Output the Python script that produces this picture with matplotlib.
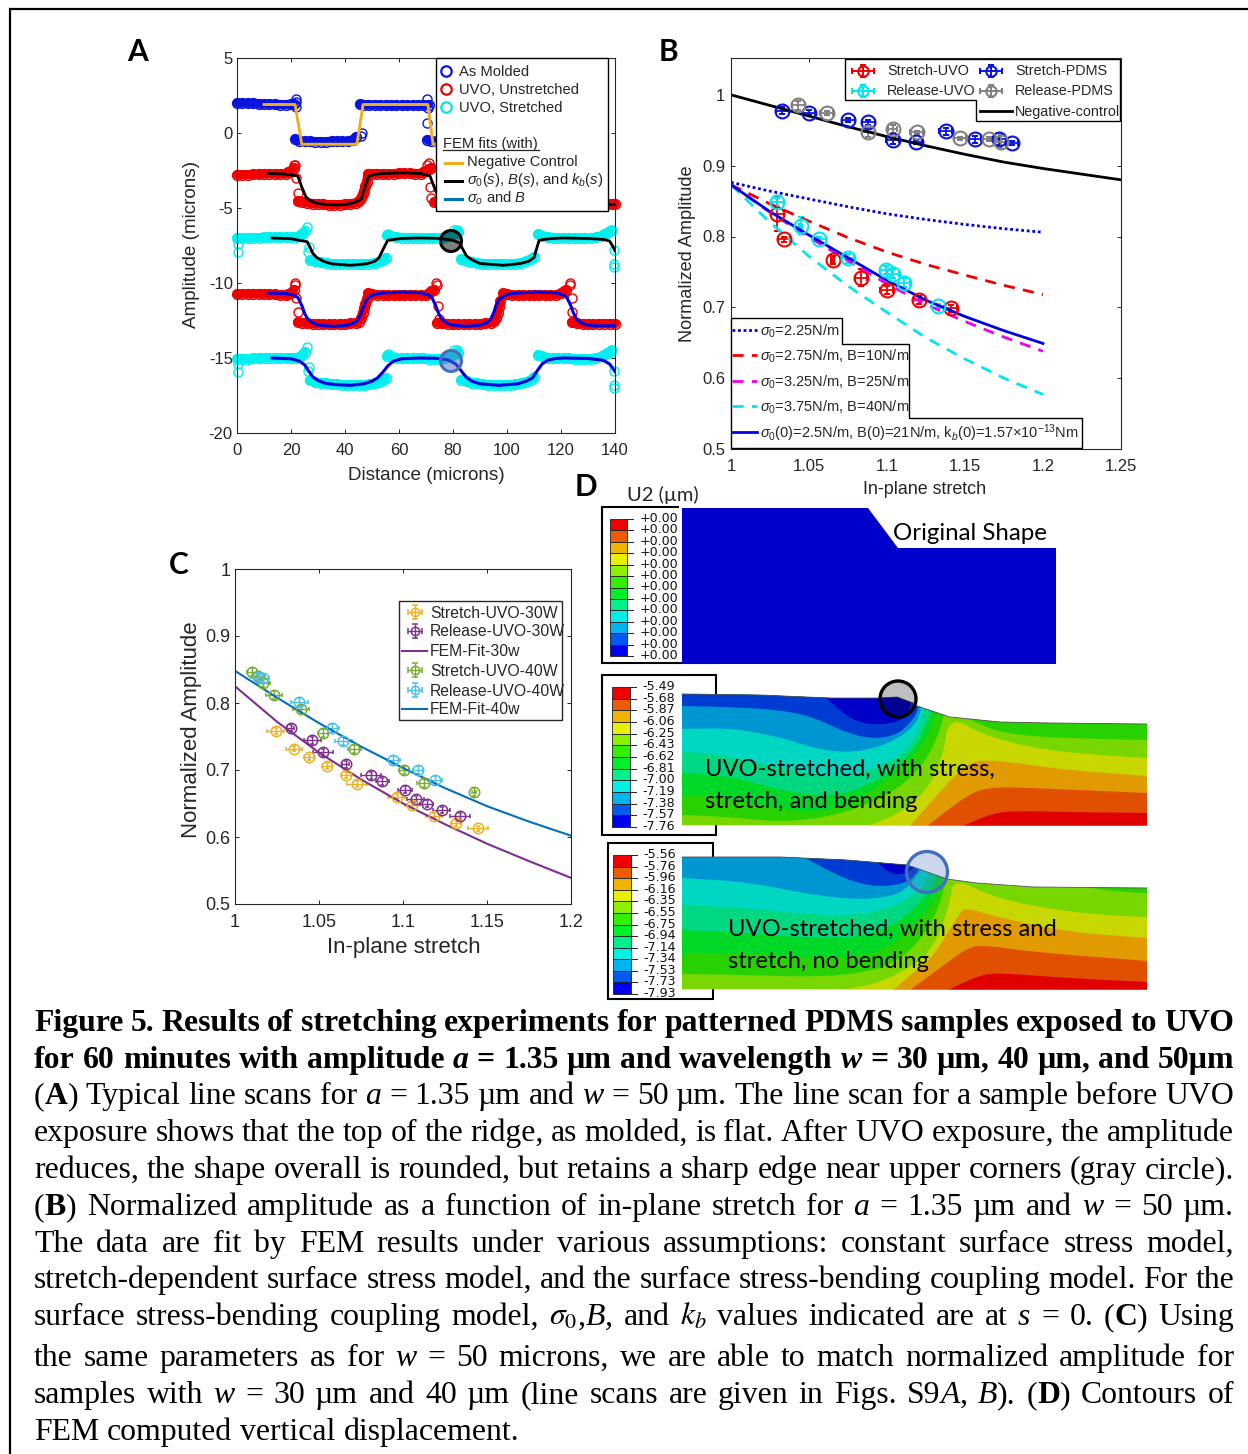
import re
import numpy as np
import matplotlib
matplotlib.use('Agg')
import matplotlib.pyplot as plt
from matplotlib.patches import Polygon, Rectangle, Circle

plt.rcParams['font.family'] = ['Liberation Sans', 'DejaVu Sans']
plt.rcParams['mathtext.fontset'] = 'custom'
plt.rcParams['mathtext.rm'] = 'Liberation Sans'
plt.rcParams['mathtext.it'] = 'Liberation Sans:italic'
plt.rcParams['mathtext.bf'] = 'Liberation Sans:bold'
plt.rcParams['axes.unicode_minus'] = False

W, H = 1248, 1454
DARK = '#262626'

# ---- panel A, line scans (None = no points on the wall) ----
molded_x = [0, 2, 4, 6, 8, 10, 12, 14, 16, 18, 20, 21, None, 21.5, 23, 25, 27, 29, 31, 33, 35, 37, 39, 41, 43, 44, None,
            45.5, 47, 49, 51, 53, 55, 57, 59, 61, 63, 65, 67, 69, 71, None, 70.5, 72, 74]
molded_y = [2.0, 2.0, 1.98, 1.98, 1.95, 1.95, 1.92, 1.92, 1.9, 1.9, 1.92, 1.95, None, -0.4, -0.5, -0.55, -0.55, -0.57, -0.57,
            -0.57, -0.55, -0.55, -0.55, -0.55, -0.45, -0.25, None, 1.92, 1.9, 1.87, 1.87, 1.85, 1.85, 1.85, 1.85, 1.85,
            1.85, 1.85, 1.85, 1.87, 1.9, None, -0.45, -0.5, -0.55]
molded_out_x = [21.9, 21.9, 21.7, 46.3, 45.8, 70.4, 70.4, 70.6]
molded_out_y = [2.3, 1.75, 2.1, 0.0, -0.2, 2.27, 0.67, 1.7]

red1_x = [0, 2, 4, 6, 8, 10, 12, 14, 16, 18, 19, 20, 21, None, 22.5, 24, 26, 28, 30, 32, 34, 36, 38, 40, 42, 44, 45, 46, 46.5,
          47, 47.5, 48, 48.5, 50, 52, 54, 56, 58, 60, 62, 64, 66, 68, 69, 70, 71, 72, None, 73, 75, 80, 85, 90, 95, 96.5, None,
          98, 103, 108, 113, 118, 120, None, 121, 125, 130, 135, 137, 139, 140]
red1_y = [-2.78, -2.78, -2.78, -2.75, -2.75, -2.72, -2.72, -2.72, -2.72, -2.7, -2.6, -2.5, -2.35, None, -4.55, -4.6, -4.65,
          -4.7, -4.72, -4.75, -4.77, -4.77, -4.77, -4.75, -4.72, -4.65, -4.55, -4.35, -4.1, -3.85, -3.55, -3.25, -2.7, -2.7,
          -2.72, -2.72, -2.72, -2.7, -2.68, -2.68, -2.68, -2.7, -2.7, -2.6, -2.5, -2.4, -2.3, None, -4.6, -4.7, -4.75, -4.77,
          -4.75, -4.6, -4.3, None, -2.7, -2.7, -2.7, -2.7, -2.6, -2.4, None, -4.6, -4.7, -4.75, -4.75, -4.75, -4.75, -4.75]
red1_out_x = [21, 21.5, 22, 22.5, 70.5, 71, 71.5, 71.8]
red1_out_y = [-2.1, -2.1, -3.0, -4.0, -2.1, -2.0, -3.6, -4.3]

cyan1_x = [0, 2, 4, 6, 8, 10, 12, 14, 16, 18, 20, 22, 23, 24, 25, None, 27, 29, 31, 33, 35, 37, 39, 41, 43, 45, 47, 49, 51, 53,
           54, 55, None, 55.5, 57, 59, 61, 63, 65, 67, 69, 71, 73, 75, 77, 79, 80, 81, 82, None, 83, 85, 87, 89, 91, 93, 95,
           97, 99, 101, 103, 105, 107, 109, 110, None, 111.5, 113, 115, 117, 119, 121, 123, 125, 127, 129, 131, 133, 135, 136,
           137, 138]
cyan1_y = [-7.0, -7.0, -7.0, -6.98, -6.98, -6.95, -6.95, -6.95, -6.95, -6.95, -6.95, -6.95, -6.85, -6.7, -6.55, None, -8.45,
           -8.55, -8.6, -8.65, -8.7, -8.7, -8.72, -8.72, -8.72, -8.72, -8.72, -8.7, -8.65, -8.55, -8.45, -8.3, None, -6.8, -6.85,
           -6.95, -6.98, -6.98, -6.98, -6.98, -6.98, -7.0, -7.0, -7.0, -6.95, -6.85, -6.75, -6.65, -6.6, None, -8.4, -8.5, -8.6,
           -8.65, -8.7, -8.72, -8.72, -8.72, -8.72, -8.72, -8.7, -8.65, -8.55, -8.4, -8.25, None, -6.75, -6.85, -6.95, -6.98,
           -6.98, -6.98, -6.98, -7.0, -7.0, -7.0, -7.0, -6.95, -6.85, -6.75, -6.65, -6.55]
cyan1_out_x = [0.4, 0.4, 25.9, 26.4, 26.5, 55.8, 80.5, 81.5, 139.5, 139.5, 139.5, 139.0, 138.5]
cyan1_out_y = [-7.95, -7.4, -6.25, -7.95, -7.6, -6.7, -6.5, -6.5, -7.8, -8.7, -8.9, -6.5, -6.5]

red2_x = [0, 2, 4, 6, 8, 10, 12, 14, 16, 18, 19, 20, 21, None, 22.5, 24, 26, 28, 30, 32, 34, 36, 38, 40, 42, 44, 45, 46, 46.5,
          47, 47.5, 48, 48.5, 50, 52, 54, 56, 58, 60, 62, 64, 66, 68, 70, 71, 72, 73, None, 74, 76, 78, 80, 82, 84, 86, 88, 90, 92,
          94, 95, 96, 96.5, 97, 97.5, None, 98.5, 100, 102, 104, 106, 108, 110, 112, 114, 116, 118, 120, 121, 122, None, 124,
          126, 128, 130, 132, 134, 136, 138, 140]
red2_y = [-10.72, -10.72, -10.72, -10.72, -10.72, -10.72, -10.75, -10.75, -10.78, -10.8, -10.75, -10.65, -10.45, None, -12.6,
          -12.65, -12.68, -12.72, -12.72, -12.75, -12.75, -12.75, -12.75, -12.75, -12.7, -12.65, -12.6, -12.3, -12.0, -11.7,
          -11.4, -11.1, -10.7, -10.75, -10.78, -10.8, -10.82, -10.82, -10.82, -10.82, -10.82, -10.82, -10.82, -10.82, -10.7,
          -10.55, -10.45, None, -12.65, -12.7, -12.72, -12.75, -12.75, -12.75, -12.75, -12.75, -12.75, -12.7, -12.65, -12.55,
          -12.3, -12.0, -11.6, -11.2, None, -10.7, -10.75, -10.8, -10.82, -10.82, -10.82, -10.82, -10.82, -10.82, -10.82, -10.8,
          -10.7, -10.55, -10.45, None, -12.62, -12.68, -12.72, -12.75, -12.75, -12.72, -12.72, -12.72, -12.72]
red2_out_x = [21.3, 21.5, 22, 22.6, 73.8, 74, 74.5, 74.8, 123.2, 123.5, 124, 124.2]
red2_out_y = [-10.0, -10.15, -11.0, -11.9, -10.0, -10.1, -11.5, -12.4, -10.0, -10.15, -11.0, -11.9]

cyan2_x = [0, 2, 4, 6, 8, 10, 12, 14, 16, 18, 20, 22, 23, 24, 25, None, 27, 29, 31, 33, 35, 37, 39, 41, 43, 45, 47, 49, 51, 53,
           54, 55, None, 55.5, 57, 59, 61, 63, 65, 67, 69, 71, 73, 75, 77, 79, 80, 81, 82, None, 83, 85, 87, 89, 91, 93, 95,
           97, 99, 101, 103, 105, 107, 109, 110, None, 111.5, 113, 115, 117, 119, 121, 123, 125, 127, 129, 131, 133, 135, 136,
           137, 138]
cyan2_y = [-15.05, -15.05, -15.05, -15.03, -15.03, -15.0, -15.0, -15.0, -15.0, -15.0, -15.0, -15.0, -14.95, -14.8, -14.6, None,
           -16.5, -16.6, -16.65, -16.7, -16.75, -16.75, -16.78, -16.78, -16.78, -16.78, -16.78, -16.75, -16.7, -16.6, -16.5,
           -16.35, None, -14.85, -14.9, -15.0, -15.03, -15.03, -15.03, -15.03, -15.03, -15.05, -15.05, -15.05, -15.0, -14.9,
           -14.8, -14.7, -14.65, None, -16.45, -16.55, -16.65, -16.7, -16.75, -16.78, -16.78, -16.78, -16.78, -16.78, -16.75,
           -16.7, -16.6, -16.45, -16.3, None, -14.8, -14.9, -15.0, -15.03, -15.03, -15.03, -15.03, -15.05, -15.05, -15.05, -15.05,
           -15.0, -14.9, -14.8, -14.7, -14.6]
cyan2_out_x = [0.4, 0.4, 25.9, 26.4, 26.5, 55.8, 80.5, 81.5, 139.5, 139.5, 139.5, 139.0, 138.5]
cyan2_out_y = [-15.95, -15.4, -14.25, -15.9, -15.6, -14.75, -14.5, -14.5, -15.9, -16.8, -17.0, -14.5, -14.5]

neg_fit_x = [10, 21.5, 24, 44.4, 46.7, 70.7, 72.6, 95, 97, 121, 123]
neg_fit_y = [1.9, 1.9, -0.75, -0.75, 1.9, 1.9, -0.75, -0.75, 1.9, 1.9, -0.75]

full_fit1_x = [11.6, 18, 22.5, 24, 25.5, 27, 29.6, 33, 37, 41, 44, 46, 47, 48.5, 49, 51, 54, 61.6, 68, 71.5, 73, 74.5, 76, 79,
               85, 92, 95, 97, 102, 110, 120, 124, 127, 133, 140]
full_fit1_y = [-2.7, -2.74, -2.87, -3.6, -4.25, -4.5, -4.68, -4.77, -4.8, -4.75, -4.6, -4.4, -3.8, -3.0, -2.87, -2.75, -2.7, -2.65,
               -2.7, -2.87, -3.6, -4.25, -4.5, -4.68, -4.8, -4.7, -4.4, -2.87, -2.68, -2.65, -2.87, -4.4, -4.65, -4.78, -4.75]
full_fit2_x = [13, 20, 26, 27, 28, 29.5, 32, 35, 42, 48, 51, 52.5, 54, 55.8, 57.9, 61, 67, 74.4, 80, 82.6, 83.5, 85, 87, 90, 98.6,
               105, 108, 110, 111.9, 113.4, 117, 121, 130, 136, 138, 139, 140]
full_fit2_y = [-7.0, -7.05, -7.25, -7.6, -8.0, -8.3, -8.55, -8.72, -8.82, -8.72, -8.55, -8.35, -7.8, -7.15, -7.1, -7.03, -7.0, -7.02,
               -7.15, -7.35, -7.7, -8.2, -8.45, -8.7, -8.82, -8.7, -8.55, -8.3, -7.15, -7.1, -7.03, -7.0, -7.03, -7.1, -7.2, -7.5, -7.85]
const_fit1_x = [11.6, 18, 21, 22.6, 24, 25, 26, 27.5, 29.6, 33, 37, 41, 43.5, 45, 46, 47, 48, 49.3, 51, 54, 61.6, 68, 71, 72.2, 73.6,
                74.6, 75.6, 77, 79, 83, 86.3, 90, 92.5, 94, 95, 96, 97, 98.6, 100.3, 103.6, 111, 118, 120.8, 122.2, 123.6, 124.6,
                125.6, 127, 129, 133, 140]
const_fit1_y = [-10.67, -10.7, -10.8, -10.98, -11.5, -12.0, -12.35, -12.6, -12.78, -12.86, -12.88, -12.8, -12.65, -12.4, -12.0, -11.5,
                -11.1, -10.88, -10.75, -10.67, -10.6, -10.65, -10.8, -10.98, -11.5, -12.0, -12.35, -12.6, -12.78, -12.86, -12.88,
                -12.8, -12.65, -12.4, -12.0, -11.5, -11.1, -10.9, -10.75, -10.67, -10.6, -10.65, -10.8, -10.98, -11.5, -12.0,
                -12.35, -12.6, -12.78, -12.86, -12.85]
const_fit2_x = [13, 20, 23, 25, 26.5, 28, 30, 33, 37, 42, 47, 50, 52, 54, 56, 58, 61, 67.8, 74, 78, 81, 83, 85, 87, 90, 97, 104, 107,
                109.4, 111, 113, 115, 118, 121, 130, 135.6, 138, 140]
const_fit2_y = [-15.0, -15.05, -15.2, -15.45, -15.85, -16.25, -16.5, -16.7, -16.78, -16.82, -16.72, -16.55, -16.33, -15.95, -15.5,
                -15.2, -15.05, -15.0, -15.02, -15.12, -15.4, -15.85, -16.3, -16.55, -16.72, -16.82, -16.72, -16.55, -16.33, -15.9,
                -15.4, -15.15, -15.03, -15.0, -15.03, -15.15, -15.4, -15.9]

# ---- panel B ----
stretch_uvo_x = [1.0297, 1.034, 1.0652, 1.0833, 1.0998, 1.1207, 1.1408]
stretch_uvo_y = [0.8324, 0.7958, 0.7666, 0.742, 0.7244, 0.7103, 0.6986]
stretch_uvo_xe = [0.004, 0.004, 0.001, 0.004, 0.004, 0.004, 0.004]
stretch_uvo_ye = [0.025, 0.004, 0.006, 0.012, 0.006, 0.005, 0.005]
release_uvo_x = [1.0297, 1.0447, 1.0566, 1.0748, 1.0994, 1.104, 1.111, 1.133]
release_uvo_y = [0.849, 0.8155, 0.7958, 0.769, 0.7526, 0.7475, 0.7348, 0.7018]
release_uvo_xe = [0.004, 0.001, 0.004, 0.004, 0.004, 0.004, 0.004, 0.001]
release_uvo_ye = [0.006, 0.012, 0.004, 0.006, 0.006, 0.006, 0.006, 0.003]
stretch_pdms_x = [1.0329, 1.05, 1.0752, 1.088, 1.1036, 1.1186, 1.1376, 1.1564, 1.172, 1.18]
stretch_pdms_y = [0.9775, 0.975, 0.9643, 0.961, 0.9357, 0.9334, 0.9483, 0.937, 0.9376, 0.9324]
stretch_pdms_xe = [0.004, 0.004, 0.004, 0.004, 0.004, 0.004, 0.004, 0.004, 0.004, 0.004]
stretch_pdms_ye = [0.005, 0.004, 0.003, 0.003, 0.005, 0.003, 0.005, 0.005, 0.008, 0.003]
release_pdms_x = [1.0432, 1.0613, 1.088, 1.1036, 1.119, 1.1468, 1.1654, 1.1729]
release_pdms_y = [0.985, 0.974, 0.947, 0.952, 0.947, 0.9385, 0.938, 0.934]
release_pdms_xe = [0.004, 0.004, 0.004, 0.003, 0.004, 0.004, 0.004, 0.004]
release_pdms_ye = [0.006, 0.003, 0.006, 0.006, 0.002, 0.002, 0.003, 0.011]

control_x = [1.0, 1.025, 1.05, 1.075, 1.1, 1.125, 1.15, 1.175, 1.2, 1.225, 1.25]
control_y = [1.0, 0.985, 0.97, 0.955, 0.941, 0.928, 0.916, 0.905, 0.896, 0.888, 0.88]
fit_x = [1.0, 1.025, 1.05, 1.075, 1.1, 1.125, 1.15, 1.175, 1.2]
fit_225 = [0.8765, 0.864, 0.853, 0.842, 0.832, 0.824, 0.817, 0.811, 0.806]
fit_275 = [0.873, 0.846, 0.8216, 0.7985, 0.778, 0.7605, 0.7455, 0.731, 0.718]
fit_325 = [0.873, 0.834, 0.799, 0.766, 0.733, 0.704, 0.68, 0.658, 0.638]
fit_375 = [0.873, 0.82, 0.772, 0.73, 0.693, 0.657, 0.627, 0.6, 0.577]
fit_full = [0.873, 0.835, 0.802, 0.77, 0.738, 0.71, 0.687, 0.667, 0.649]

# ---- panel C ----
s30_x = [1.0242, 1.0351, 1.044, 1.0549, 1.0659, 1.0724, 1.0962, 1.1052, 1.1185, 1.1315, 1.1448]
s30_y = [0.758, 0.732, 0.719, 0.706, 0.6925, 0.679, 0.66, 0.648, 0.632, 0.621, 0.613]
s30_xe = [0.005, 0.005, 0.003, 0.003, 0.003, 0.006, 0.005, 0.004, 0.005, 0.003, 0.006]
r30_x = [1.0331, 1.046, 1.0526, 1.0659, 1.0811, 1.0877, 1.1012, 1.1076, 1.1141, 1.123, 1.1339]
r30_y = [0.7627, 0.7443, 0.7264, 0.7085, 0.6921, 0.6831, 0.6706, 0.6567, 0.6497, 0.6403, 0.6309]
r30_xe = [0.002, 0.005, 0.006, 0.002, 0.006, 0.004, 0.004, 0.005, 0.004, 0.005, 0.006]
s40_x = [1.0099, 1.0139, 1.0168, 1.0232, 1.0393, 1.0526, 1.071, 1.1008, 1.1125, 1.1423]
s40_y = [0.8463, 0.8403, 0.8303, 0.8119, 0.791, 0.7548, 0.7318, 0.6996, 0.6801, 0.6676]
s40_xe = [0.003, 0.004, 0.004, 0.005, 0.005, 0.003, 0.004, 0.003, 0.004, 0.001]
r40_x = [1.0139, 1.0165, 1.0383, 1.0579, 1.0645, 1.0942, 1.1091, 1.119]
r40_y = [0.8393, 0.8373, 0.802, 0.7622, 0.7428, 0.7149, 0.7004, 0.6851]
r40_xe = [0.004, 0.004, 0.005, 0.004, 0.005, 0.004, 0.003, 0.004]
fem_x = [1.0, 1.025, 1.05, 1.075, 1.1, 1.125, 1.15, 1.175, 1.2]
fem_30 = [0.825, 0.772, 0.726, 0.686, 0.65, 0.619, 0.59, 0.564, 0.539]
fem_40 = [0.848, 0.808, 0.77, 0.735, 0.703, 0.673, 0.646, 0.623, 0.602]

# ---- panel D, colour bars and contour boundaries (figure pixels) ----
bar_colors = ['#f00000', '#f05a00', '#f0b400', '#e6f000', '#8cf000', '#32f000', '#00f028',
              '#00f08c', '#00f0e6', '#00b4f0', '#005af0', '#0000f0']
labels_1 = ['+0.00'] * 13
labels_2 = ['-5.49', '-5.68', '-5.87', '-6.06', '-6.25', '-6.43', '-6.62', '-6.81', '-7.00', '-7.19', '-7.38', '-7.57', '-7.76']
labels_3 = ['-5.56', '-5.76', '-5.96', '-6.16', '-6.35', '-6.55', '-6.75', '-6.94', '-7.14', '-7.34', '-7.53', '-7.73', '-7.93']

c_yg, c_g, c_bg, c_tg, c_teal = '#78d700', '#28d200', '#00d828', '#00d782', '#00d7c3'
c_b3, c_b2, c_dk, c_y, c_o, c_or, c_r = '#0096d2', '#003cd2', '#0000c8', '#c8d700', '#e19b00', '#e15000', '#e10000'

shape0 = [(682, 508), (868, 508), (898, 548), (1056, 548), (1056, 664), (682, 664)]

surf2 = [(682, 694), (760, 695), (830, 698), (880, 698), (897, 697), (913, 703), (917, 706), (950, 717), (1000, 722), (1050, 723), (1147, 724)]
bottom2 = 825.5
lobe2 = [(962, 716), (997, 732), (1040, 737), (1100, 739), (1147, 740)]
right2 = [
    (c_y, [(868, 826), (900, 813), (927, 790), (943, 757), (949, 716), (983, 735), (1033, 748), (1083, 754), (1147, 758)]),
    (c_o, [(910, 826), (950, 780), (970, 762), (990, 760), (1017, 763), (1067, 770), (1147, 776)]),
    (c_or, [(927, 826), (970, 793), (993, 787), (1033, 788), (1147, 793)]),
    (c_r, [(963, 826), (993, 813), (1017, 811), (1067, 812), (1147, 813)]),
]
left2 = [
    (c_g, [(682, 815), (730, 817), (780, 822), (830, 817), (880, 800), (915, 775), (935, 745), (945, 712)]),
    (c_bg, [(682, 795), (730, 798), (780, 810), (830, 812), (875, 790), (910, 760), (928, 735), (938, 708)]),
    (c_tg, [(682, 773), (730, 776), (780, 790), (830, 797), (870, 785), (905, 760), (922, 735), (932, 708)]),
    (c_teal, [(682, 752), (713, 753), (780, 768), (830, 777), (863, 773), (897, 758), (915, 740), (925, 706)]),
    (c_b3, [(682, 729), (730, 728), (780, 737), (813, 748), (847, 753), (880, 747), (907, 733), (918, 720), (922, 704)]),
    (c_b2, [(682, 706), (730, 707), (780, 710), (813, 717), (847, 733), (873, 739), (897, 735), (910, 723), (917, 713), (919, 702)]),
    (c_dk, [(818, 690), (837, 708), (853, 720), (873, 725), (893, 723), (907, 717), (910, 708), (912, 695)]),
]

surf3 = [(682, 857), (780, 857), (847, 860), (907, 865), (913, 867), (947, 879), (977, 883), (1033, 887), (1147, 888)]
bottom3 = 989.5
lobe3 = [(1073, 884), (1107, 891), (1147, 893)]
right3 = [
    (c_y, [(840, 990), (880, 983), (920, 962), (937, 940), (950, 903), (953, 878), (993, 897), (1043, 908), (1100, 915), (1147, 917)]),
    (c_o, [(893, 990), (920, 967), (933, 957), (960, 912), (967, 908), (997, 917), (1067, 932), (1147, 938)]),
    (c_or, [(910, 990), (933, 973), (967, 948), (983, 945), (1033, 952), (1147, 961)]),
    (c_r, [(948, 990), (980, 975), (1000, 973), (1067, 978), (1147, 982)]),
]
left3 = [
    (c_g, [(682, 974), (747, 975), (813, 977), (863, 973), (897, 962), (920, 940), (937, 913), (948, 875)]),
    (c_bg, [(682, 953), (747, 953), (813, 958), (863, 957), (897, 943), (927, 910), (940, 890), (943, 872)]),
    (c_tg, [(682, 930), (747, 933), (813, 938), (863, 937), (897, 923), (920, 903), (933, 887), (937, 870)]),
    (c_teal, [(682, 905), (747, 908), (813, 915), (863, 915), (897, 905), (915, 893), (923, 887), (932, 866)]),
    (c_b3, [(682, 878), (747, 882), (813, 895), (863, 900), (897, 895), (910, 885), (925, 864)]),
    (c_b2, [(795, 852), (823, 868), (853, 882), (880, 887), (907, 883), (918, 872), (922, 860)]),
    (c_dk, [(872, 855), (887, 872), (900, 875), (913, 870), (918, 860)]),
]

# ---- caption, one list of (text, style) runs per line ----
caption = [
    [('Figure 5. Results of stretching experiments for patterned PDMS samples exposed to UVO', 'b')],
    [('for 60 minutes with amplitude ', 'b'), ('a', 'bi'), (' = 1.35 µm and wavelength ', 'b'), ('w', 'bi'),
     (' = 30 µm, 40 µm, and 50µm', 'b')],
    [('(', 'n'), ('A', 'b'), (') Typical line scans for ', 'n'), ('a', 'i'), (' = 1.35 µm and ', 'n'), ('w', 'i'),
     (' = 50 µm. The line scan for a sample before UVO', 'n')],
    [('exposure shows that the top of the ridge, as molded, is flat.  After UVO exposure, the amplitude', 'n')],
    [('reduces, the shape overall is rounded, but retains a sharp edge near upper corners (gray circle).', 'n')],
    [('(', 'n'), ('B', 'b'), (') Normalized amplitude as a function of in-plane stretch for ', 'n'), ('a', 'i'),
     (' = 1.35 µm and ', 'n'), ('w', 'i'), (' = 50 µm.', 'n')],
    [('The data are fit by FEM results under various assumptions: constant surface stress model,', 'n')],
    [('stretch-dependent surface stress model, and the surface stress-bending coupling model. For the', 'n')],
    [('surface stress-bending coupling model, ', 'n'), (r'$\sigma_0$', 'm'), (',', 'n'), ('B', 'i'), (',', 'i'),
     (' and ', 'n'), (r'$k_b$', 'm'), (' values indicated are at ', 'n'), ('s', 'i'), (' = 0.   (', 'n'), ('C', 'b'),
     (') Using', 'n')],
    [('the same parameters as for ', 'n'), ('w', 'i'), (' = 50 microns, we are able to match normalized amplitude for', 'n')],
    [('samples with ', 'n'), ('w', 'i'), (' = 30 µm and 40 µm (line scans are given in Figs. S9', 'n'), ('A', 'i'), (', ', 'n'),
     ('B', 'i'), (').  (', 'n'), ('D', 'b'), (') Contours of', 'n')],
    [('FEM computed vertical displacement.', 'n')],
]
caption_base = [1031, 1068, 1104, 1141, 1178, 1215, 1252, 1288, 1325, 1366, 1403, 1440]


fig = plt.figure(figsize=(W / 100, H / 100), dpi=100, facecolor='white')


def panel(x0, x1, y0, y1):
    return fig.add_axes([x0 / W, 1 - y1 / H, (x1 - x0) / W, (y1 - y0) / H])


def style_axes(ax, size, xpad, ypad):
    ax.tick_params(direction='in', top=True, right=True, length=3, width=0.7, color=DARK,
                   labelcolor=DARK, labelsize=size)
    ax.tick_params(axis='x', pad=xpad)
    ax.tick_params(axis='y', pad=ypad)
    for s in ax.spines.values():
        s.set_linewidth(0.8)
        s.set_color(DARK)


# full figure overlay in pixels, holds legends, labels, panel D and the caption
pix = fig.add_axes([0, 0, 1, 1], zorder=10)
pix.set_xlim(0, W)
pix.set_ylim(H, 0)
pix.axis('off')
pix.patch.set_alpha(0)


def txt(x, y, s, size, ha='left', va='center', color='black', **kw):
    return pix.text(x, y, s, fontsize=size, ha=ha, va=va, color=color, **kw)


# outer frame of the figure
pix.plot([10, 10, W], [H, 9, 9], color='black', lw=1.6, solid_joinstyle='miter')

# ---------- A ----------
axa = panel(237, 615, 58, 433)
axa.set_xlim(0, 140)
axa.set_ylim(-20, 5)
axa.set_xticks([0, 20, 40, 60, 80, 100, 120, 140])
axa.set_yticks([-20, -15, -10, -5, 0, 5])
axa.set_yticklabels(['-20', '-15', '-10', '-5', '0', '5'])
style_axes(axa, 12, 7.5, 3)
scans = [(molded_x, molded_y, molded_out_x, molded_out_y, '#0a14dc'),
         (red1_x, red1_y, red1_out_x, red1_out_y, '#f00000'),
         (cyan1_x, cyan1_y, cyan1_out_x, cyan1_out_y, '#00f0f0'),
         (red2_x, red2_y, red2_out_x, red2_out_y, '#f00000'),
         (cyan2_x, cyan2_y, cyan2_out_x, cyan2_out_y, '#00f0f0')]
for sx, sy, ox, oy, col in scans:
    xs = np.array(sx, dtype=float)
    ys = np.array(sy, dtype=float)
    axa.plot(xs, ys, color=col, lw=6.5, solid_capstyle='round', clip_on=False)
    axa.plot(xs, ys, 'o', mfc='none', mec=col, ms=7, mew=1.1, clip_on=False)
    axa.plot(ox, oy, 'o', mfc='none', mec=col, ms=6.5, mew=1.0, clip_on=False)
axa.plot(neg_fit_x, neg_fit_y, color='#edb120', lw=2.1)
axa.plot(full_fit1_x, full_fit1_y, color='black', lw=2.0)
axa.plot(full_fit2_x, full_fit2_y, color='black', lw=2.0)
axa.plot(const_fit1_x, const_fit1_y, color='#0000e0', lw=2.2)
axa.plot(const_fit2_x, const_fit2_y, color='#0000e0', lw=2.2)

pix.add_patch(Circle((451, 241), 10.5, fc=(0, 0, 0, 0.5), ec='black', lw=2.2))
pix.add_patch(Circle((451, 361), 10.5, fc=(70 / 255, 110 / 255, 190 / 255, 0.5), ec='#466ebe', lw=2.2))

pix.add_patch(Rectangle((436, 58), 172, 153, fc='white', ec='black', lw=1.0, zorder=3))
for yy, col, name in [(71, '#0a14dc', 'As Molded'), (89, '#f00000', 'UVO, Unstretched'), (107, '#00e6e6', 'UVO, Stretched')]:
    pix.plot([446], [yy], 'o', mfc='none', mec=col, ms=7.5, mew=1.6, zorder=4)
    txt(459, yy + 1, name, 10.6, color=DARK, zorder=4)
txt(443, 144, 'FEM fits (with)', 10.6, color=DARK, zorder=4)
pix.plot([443, 539], [150, 150], color=DARK, lw=0.9, zorder=4)
for yy, col, name in [(163, '#edb120', 'Negative Control'),
                      (181, 'black', r'$\sigma_0(s)$, $B(s)$, and $k_b(s)$'),
                      (199, '#0072bd', r'$\sigma_o$ and $B$')]:
    pix.plot([445, 462], [yy, yy], color=col, lw=2.2, zorder=4)
    txt(467, yy - 1, name, 10.6, color=DARK, zorder=4, math_fontfamily='custom')

txt(426, 476, 'Distance (microns)', 13.6, ha='center', color=DARK)
txt(191, 245, 'Amplitude (microns)', 13.6, ha='center', rotation=90, color=DARK)
txt(138, 52, 'A', 21.5, ha='center', family='Lato', weight='bold')

# ---------- B ----------
axb = panel(731, 1121, 58, 449)
axb.set_xlim(1, 1.25)
axb.set_ylim(0.5, 1.052)
axb.set_xticks([1, 1.05, 1.1, 1.15, 1.2, 1.25])
axb.set_xticklabels(['1', '1.05', '1.1', '1.15', '1.2', '1.25'])
axb.set_yticks([0.5, 0.6, 0.7, 0.8, 0.9, 1])
axb.set_yticklabels(['0.5', '0.6', '0.7', '0.8', '0.9', '1'])
style_axes(axb, 12, 7.5, 4)
err_style = dict(fmt='o', mfc='none', ms=10, mew=1.5, elinewidth=1.3, capsize=2, capthick=1.2)
axb.errorbar(stretch_pdms_x, stretch_pdms_y, stretch_pdms_ye, stretch_pdms_xe, color='#0a14dc', **err_style)
axb.errorbar(release_pdms_x, release_pdms_y, release_pdms_ye, release_pdms_xe, color='#808080', **err_style)
axb.errorbar(stretch_uvo_x, stretch_uvo_y, stretch_uvo_ye, stretch_uvo_xe, color='#f00000', **err_style)
axb.errorbar(release_uvo_x, release_uvo_y, release_uvo_ye, release_uvo_xe, color='#00e6f0', **err_style)
axb.plot(control_x, control_y, color='black', lw=2)
axb.plot(fit_x, fit_225, color='#0000e6', lw=2, ls=(0, (1, 1)))
axb.plot(fit_x, fit_275, color='#f00000', lw=2, ls=(0, (4, 3)))
axb.plot(fit_x, fit_325, color='#f000f0', lw=2, ls=(0, (4, 3)))
axb.plot(fit_x, fit_375, color='#00e6f0', lw=2, ls=(0, (4, 3)))
axb.plot(fit_x, fit_full, color='#0000e6', lw=2)

pix.add_patch(Polygon([(845, 59), (1120, 59), (1120, 121), (976, 121), (976, 100), (845, 100)],
                      closed=True, fc='white', ec='black', lw=1.0, zorder=3))
leg_err = dict(fmt='o', mfc='none', ms=7.5, mew=1.5, elinewidth=1.4, capsize=2.5, capthick=1.3, zorder=4)
for xx, yy, col in [(863, 71, '#f00000'), (863, 91, '#00e6f0'), (991, 71, '#0a14dc'), (991, 91, '#808080')]:
    pix.errorbar([xx], [yy], 6, 11, color=col, **leg_err)
for xx, yy, name in [(887, 71, 'Stretch-UVO'), (887, 91, 'Release-UVO'), (1015, 71, 'Stretch-PDMS'),
                     (1015, 91, 'Release-PDMS'), (1015, 112, 'Negative-control')]:
    txt(xx, yy, name, 10.35, color=DARK, zorder=4)
pix.plot([980, 1012], [111, 111], color='black', lw=2, zorder=4)

pix.add_patch(Polygon([(731, 318), (842, 318), (842, 344), (909, 344), (909, 418), (1082, 418), (1082, 448), (731, 448)],
                      closed=True, fc='white', ec='black', lw=1.0, zorder=3))
rows = [(330, '#0000e6', (0, (1, 1)), r'$\sigma_0$=2.25N/m'),
        (355, '#f00000', (0, (4, 3)), r'$\sigma_0$=2.75N/m, B=10N/m'),
        (381, '#f000f0', (0, (4, 3)), r'$\sigma_0$=3.25N/m, B=25N/m'),
        (406, '#00e6f0', (0, (4, 3)), r'$\sigma_0$=3.75N/m, B=40N/m'),
        (432, '#0000e6', '-', r'$\sigma_0$(0)=2.5N/m, B(0)=21N/m, k$_b$(0)=1.57$\times$10$^{-13}$Nm')]
for yy, col, ls, name in rows:
    pix.plot([732, 757], [yy, yy], color=col, lw=2, ls=ls, zorder=4)
    txt(760, yy + 1, name, 10.5, color=DARK, zorder=4, math_fontfamily='custom')

txt(925, 490, 'In-plane stretch', 12.9, ha='center', color=DARK)
txt(688, 254, 'Normalized Amplitude', 13.1, ha='center', rotation=90, color=DARK)
txt(668, 52, 'B', 21.5, ha='center', family='Lato', weight='bold')

# ---------- C ----------
axc = panel(235, 571, 569, 904)
axc.set_xlim(1, 1.2)
axc.set_ylim(0.5, 1)
axc.set_xticks([1, 1.05, 1.1, 1.15, 1.2])
axc.set_xticklabels(['1', '1.05', '1.1', '1.15', '1.2'])
axc.set_yticks([0.5, 0.6, 0.7, 0.8, 0.9, 1])
axc.set_yticklabels(['0.5', '0.6', '0.7', '0.8', '0.9', '1'])
style_axes(axc, 13, 7.5, 3.5)
small = dict(fmt='o', mfc='none', ms=7.5, mew=1.1, elinewidth=1.0, capsize=1.5, capthick=0.9)
axc.errorbar(s30_x, s30_y, 0.004, s30_xe, color='#edb120', **small)
axc.errorbar(r30_x, r30_y, 0.005, r30_xe, color='#7e2f8e', **small)
axc.errorbar(s40_x, s40_y, 0.006, s40_xe, color='#77ac30', **small)
axc.errorbar(r40_x, r40_y, 0.006, r40_xe, color='#4dbeee', **small)
axc.plot(fem_x, fem_30, color='#7e2f8e', lw=1.5)
axc.plot(fem_x, fem_40, color='#0072bd', lw=1.5)

pix.add_patch(Rectangle((399, 601), 163, 119, fc='white', ec=DARK, lw=1.0, zorder=3))
leg_small = dict(fmt='o', mfc='none', ms=6, mew=1.1, elinewidth=1.0, capsize=2, capthick=0.9, zorder=4)
c_rows = [(612, '#edb120', 'Stretch-UVO-30W', True), (631, '#7e2f8e', 'Release-UVO-30W', True),
          (651, '#7e2f8e', 'FEM-Fit-30w', False), (670, '#77ac30', 'Stretch-UVO-40W', True),
          (690, '#4dbeee', 'Release-UVO-40W', True), (709, '#0072bd', 'FEM-Fit-40w', False)]
for yy, col, name, is_err in c_rows:
    if is_err:
        pix.errorbar([415], [yy], 7, 7, color=col, **leg_small)
    else:
        pix.plot([402, 427], [yy, yy], color=col, lw=1.5, zorder=4)
    txt(430, yy + 1, name, 11.3, color=DARK, zorder=4)

txt(404, 948, 'In-plane stretch', 16, ha='center', color=DARK)
txt(191, 730, 'Normalized Amplitude', 16, ha='center', rotation=90, color=DARK)
txt(179, 565, 'C', 21.5, ha='center', family='Lato', weight='bold')


# ---------- D ----------
def smooth(pts, rounds=2):
    pts = np.array(pts, dtype=float)
    for _ in range(rounds):
        q = 0.75 * pts[:-1] + 0.25 * pts[1:]
        r = 0.25 * pts[:-1] + 0.75 * pts[1:]
        mid = np.empty((2 * len(q), 2))
        mid[0::2] = q
        mid[1::2] = r
        pts = np.vstack([pts[0], mid, pts[-1]])
    return pts


def colour_bar(x0, x1, y0, y1, labels, lab_x):
    step = (y1 - y0) / len(bar_colors)
    for i, col in enumerate(bar_colors):
        pix.add_patch(Rectangle((x0, y0 + i * step), x1 - x0, step, fc=col, ec='#202020', lw=0.6, zorder=2))
    for i, lab in enumerate(labels):
        yy = y0 + i * step
        pix.plot([x1, x1 + 6], [yy, yy], color='#202020', lw=0.7, zorder=2)
        txt(lab_x, yy - 0.5, lab, 9.1, family='DejaVu Sans', color='#111111', zorder=2)


def frame(x0, y0, x1, y1):
    pix.add_patch(Rectangle((x0, y0), x1 - x0, y1 - y0, fc='white', ec='black', lw=1.5, zorder=1))


def contour_panel(surface, bottom, lobe, right, left):
    outline = list(surface) + [(surface[-1][0], bottom), (surface[0][0], bottom)]
    clip = Polygon(outline, closed=True, transform=pix.transData)
    base = pix.add_patch(Polygon(outline, closed=True, fc=c_yg, ec='none', zorder=3))
    base.set_clip_path(clip)
    # lobe under the surface, right of the corner
    pts = smooth(lobe)
    poly = np.vstack([pts, [(pts[-1][0], pts[0][1] - 60), (pts[0][0], pts[0][1] - 60)]])
    pix.add_patch(Polygon(poly, closed=True, fc=c_g, ec='none', zorder=3)).set_clip_path(clip)
    # bands toward the lower right, closed down to the bottom edge
    for col, curve in right:
        pts = smooth(curve)
        poly = np.vstack([pts, [(pts[-1][0] + 2, bottom + 3), (pts[0][0], bottom + 3)]])
        pix.add_patch(Polygon(poly, closed=True, fc=col, ec='none', zorder=3)).set_clip_path(clip)
    # bands toward the upper left, closed over the surface
    for col, curve in left:
        pts = smooth(curve)
        poly = np.vstack([pts, [(pts[-1][0], surface[0][1] - 30), (pts[0][0] - 2, surface[0][1] - 30)]])
        pix.add_patch(Polygon(poly, closed=True, fc=col, ec='none', zorder=3)).set_clip_path(clip)
    pix.plot(*zip(*surface), color='#505050', lw=0.6, zorder=3)


frame(602, 507, 715, 663)
frame(602, 675, 716, 835)
frame(608, 843, 713, 999)
pix.add_patch(Rectangle((679, 505), 60, 156, fc='white', ec='none', zorder=1.5))
colour_bar(610, 627, 519, 656, labels_1, 640)
colour_bar(612, 630, 687, 827, labels_2, 642)
colour_bar(613, 631, 855, 994, labels_3, 643)

pix.add_patch(Polygon(shape0, closed=True, fc='#0000cd', ec='none', zorder=3))
contour_panel(surf2, bottom2, lobe2, right2, left2)
contour_panel(surf3, bottom3, lobe3, right3, left3)

pix.add_patch(Circle((898, 699), 18, fc=(0, 0, 0, 0.25), ec='black', lw=2.4, zorder=5))
pix.add_patch(Circle((927, 872), 20.5, fc=(70 / 255, 110 / 255, 190 / 255, 0.27), ec='#466ebe', lw=2.4, zorder=5))

txt(893, 533, 'Original Shape', 17.3, family='Lato', zorder=6)
txt(705, 769, 'UVO-stretched, with stress,', 17.1, family='Lato', zorder=6)
txt(705, 802, 'stretch, and bending', 17.1, family='Lato', zorder=6)
txt(728, 929, 'UVO-stretched, with stress and', 17.1, family='Lato', zorder=6)
txt(728, 961, 'stretch, no bending', 17.1, family='Lato', zorder=6)
txt(627, 495, 'U2 (µm)', 14.5, family='Lato', color=DARK)
txt(586, 487, 'D', 21.5, ha='center', family='Lato', weight='bold')

# ---------- caption, justified by hand ----------
CAP_SIZE = 22.9
CAP_L, CAP_R = 34, 1234
renderer = fig.canvas.get_renderer()


def cap_text(x, y, s, kind):
    kw = dict(family=['Liberation Serif', 'DejaVu Serif'], math_fontfamily='stix')
    if kind in ('b', 'bi'):
        kw['weight'] = 'bold'
    if kind in ('i', 'bi'):
        kw['style'] = 'italic'
    return pix.text(x, y, s, fontsize=CAP_SIZE, ha='left', va='baseline', color='black', **kw)


def run_width(s, kind):
    t = cap_text(0, 0, s, kind)
    w = t.get_window_extent(renderer).width
    t.remove()
    return w


for line, base_y, n in zip(caption, caption_base, range(len(caption))):
    words = [[]]
    for s, kind in line:
        for piece in re.split(r'( +)', s):
            if not piece:
                continue
            if piece.isspace():
                if words[-1]:
                    words.append([])
            else:
                words[-1].append((piece, kind))
    widths = [sum(run_width(s, k) for s, k in w) for w in words]
    space = run_width('a a', 'n') - run_width('a', 'n') * 2
    if n < len(caption) - 1:
        gap = (CAP_R - CAP_L - sum(widths)) / (len(words) - 1)
    else:
        gap = space
    x = CAP_L
    for w, ww in zip(words, widths):
        xx = x
        for s, k in w:
            cap_text(xx, base_y, s, k)
            xx += run_width(s, k)
        x += ww + gap

fig.savefig('out.png', dpi=100)
